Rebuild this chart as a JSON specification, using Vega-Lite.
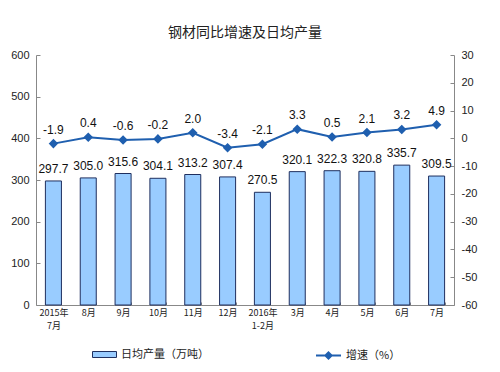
{
  "$schema": "https://vega.github.io/schema/vega-lite/v6.json",
  "autosize": "none",
  "width": 418,
  "height": 250,
  "padding": {"left": 36, "top": 55, "right": 46, "bottom": 67},
  "background": "white",
  "title": {
    "text": "钢材同比增速及日均产量",
    "font": "Noto Sans CJK SC",
    "fontSize": 14,
    "fontWeight": "normal",
    "color": "#222222",
    "anchor": "middle",
    "offset": 9
  },
  "config": {
    "view": {"stroke": null},
    "axis": {"grid": false, "domainColor": "#888888", "tickColor": "#888888", "labelColor": "#222222"}
  },
  "data": {
    "values": [
      {"m": "2015年|7月", "prod": 297.7, "growth": -1.9},
      {"m": "8月", "prod": 305.0, "growth": 0.4},
      {"m": "9月", "prod": 315.6, "growth": -0.6},
      {"m": "10月", "prod": 304.1, "growth": -0.2},
      {"m": "11月", "prod": 313.2, "growth": 2.0},
      {"m": "12月", "prod": 307.4, "growth": -3.4},
      {"m": "2016年|1-2月", "prod": 270.5, "growth": -2.1},
      {"m": "3月", "prod": 320.1, "growth": 3.3},
      {"m": "4月", "prod": 322.3, "growth": 0.5},
      {"m": "5月", "prod": 320.8, "growth": 2.1},
      {"m": "6月", "prod": 335.7, "growth": 3.2},
      {"m": "7月", "prod": 309.5, "growth": 4.9}
    ]
  },
  "encoding": {
    "x": {
      "field": "m", "type": "nominal", "sort": null, "title": null,
      "scale": {"paddingInner": 0.54, "paddingOuter": 0.27},
      "axis": {
        "labelAngle": 0,
        "labelExpr": "split(datum.label, '|')",
        "labelFont": "Noto Sans CJK SC",
        "labelFontSize": 9,
        "labelLineHeight": 13,
        "labelBaseline": "top",
        "tickBand": "extent",
        "tickSize": -3,
        "labelPadding": 6
      }
    }
  },
  "layer": [
    {
      "encoding": {
        "y": {
          "field": "prod", "type": "quantitative", "title": null,
          "scale": {"domain": [0, 600], "nice": false},
          "axis": {"values": [0, 100, 200, 300, 400, 500, 600], "orient": "left", "tickSize": -4, "labelPadding": 11, "labelFont": "Liberation Sans", "labelFontSize": 11}
        }
      },
      "layer": [
        {
          "mark": {"type": "bar", "stroke": "#1F2F5F", "strokeWidth": 1},
          "encoding": {
            "fill": {
              "datum": "日均产量（万吨）",
              "type": "nominal",
              "scale": {"domain": ["日均产量（万吨）"], "range": ["#99CCFF"]},
              "legend": {
                "title": null, "orient": "none", "legendX": 56, "legendY": 287,
                "padding": 0,
                "symbolType": "M-1,-0.25H1V0.25H-1Z",
                "symbolSize": 576,
                "symbolStrokeColor": "#1F2F5F",
                "symbolStrokeWidth": 1,
                "labelFont": "Noto Sans CJK SC", "labelFontSize": 11, "labelColor": "#222222", "labelOffset": 4
              }
            }
          }
        },
        {
          "mark": {"type": "text", "baseline": "bottom", "dy": -5, "font": "Liberation Sans", "fontSize": 12, "color": "#111111"},
          "encoding": {"text": {"field": "prod", "type": "quantitative", "format": ".1f"}}
        }
      ]
    },
    {
      "encoding": {
        "y": {
          "field": "growth", "type": "quantitative", "title": null,
          "scale": {"domain": [-60, 30], "nice": false},
          "axis": {"values": [-60, -50, -40, -30, -20, -10, 0, 10, 20, 30], "orient": "right", "tickSize": -4, "labelPadding": 11, "labelFont": "Liberation Sans", "labelFontSize": 11, "labelExpr": "replace(datum.label, '\u2212', '-')"}
        }
      },
      "layer": [
        {
          "mark": {"type": "line", "strokeWidth": 2, "point": {"filled": true, "shape": "diamond", "size": 45}},
          "encoding": {
            "stroke": {
              "datum": "增速（%）",
              "type": "nominal",
              "scale": {"domain": ["增速（%）"], "range": ["#1F5FAF"]},
              "legend": {
                "title": null, "orient": "none", "legendX": 279, "legendY": 287,
                "padding": 0,
                "symbolType": "M-1,0H1M0,-0.25L0.25,0L0,0.25L-0.25,0Z",
                "symbolSize": 625,
                "symbolStrokeWidth": 2,
                "symbolFillColor": "#1F5FAF",
                "labelFont": "Noto Sans CJK SC", "labelFontSize": 11, "labelColor": "#222222", "labelOffset": 4
              }
            },
            "color": {"value": "#1F5FAF"}
          }
        },
        {
          "mark": {"type": "text", "baseline": "bottom", "dy": -7, "font": "Liberation Sans", "fontSize": 12, "color": "#111111", "text": {"expr": "replace(format(datum.growth, '.1f'), '\u2212', '-')"}},
          "encoding": {}
        }
      ]
    }
  ],
  "resolve": {"scale": {"y": "independent"}}
}
